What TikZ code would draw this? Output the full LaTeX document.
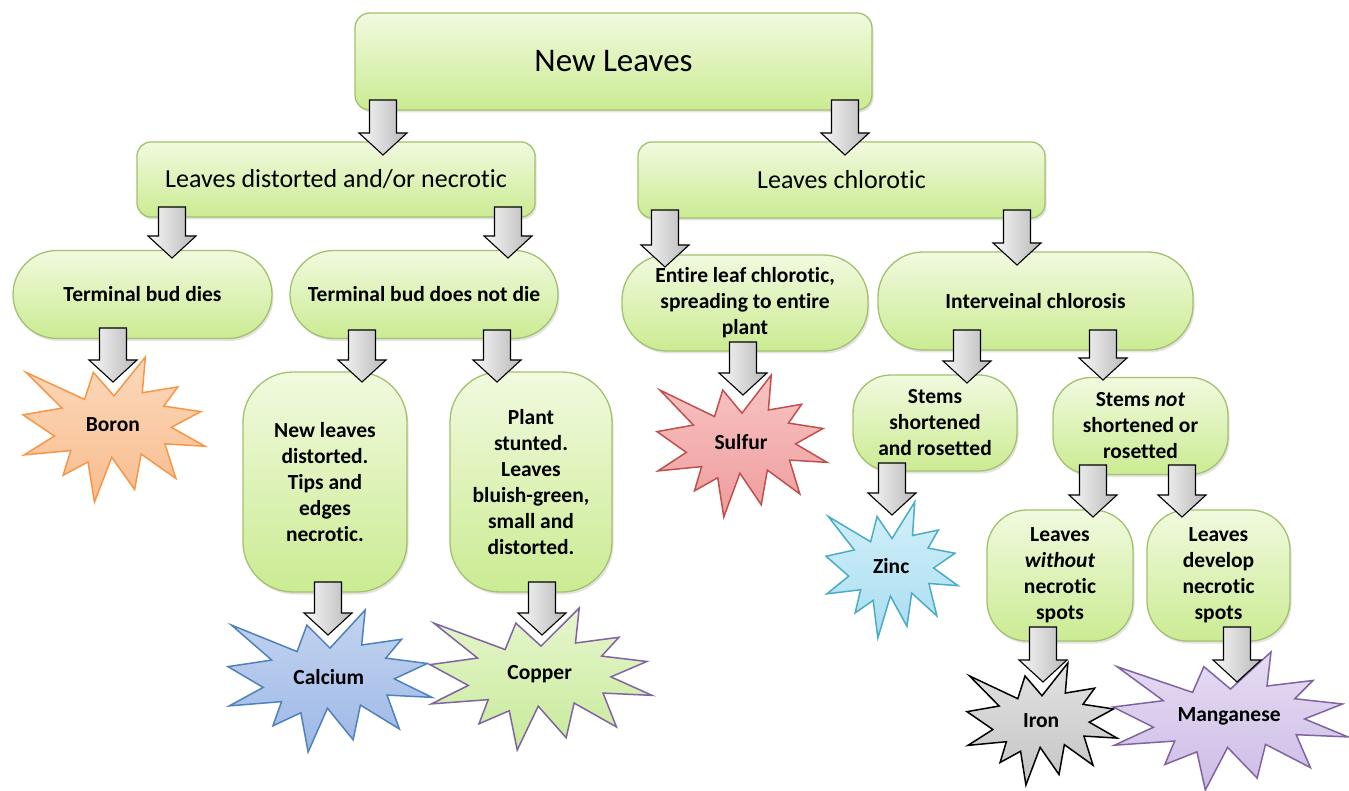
\documentclass[tikz,border=0pt]{standalone}
\usepackage{fontspec}
\setmainfont{Carlito}[Ligatures=NoCommon]
\usetikzlibrary{shadows}
\definecolor{boxborder}{HTML}{A3C16E}
\definecolor{boxtop}{HTML}{F1FADF}
\definecolor{boxbot}{HTML}{CBEB92}
\definecolor{orB}{HTML}{F79646}\definecolor{orT}{HTML}{FCD9BC}\definecolor{orF}{HTML}{F8BC8E}
\definecolor{blB}{HTML}{4F81BD}\definecolor{blT}{HTML}{C3D4F0}\definecolor{blF}{HTML}{9DB8E6}
\definecolor{puB}{HTML}{8064A2}\definecolor{gnT}{HTML}{E6F6CD}\definecolor{gnF}{HTML}{C8EA9A}
\definecolor{rdB}{HTML}{C0504D}\definecolor{rdT}{HTML}{F8C4C4}\definecolor{rdF}{HTML}{EF9C9C}
\definecolor{cyB}{HTML}{4BACC6}\definecolor{cyT}{HTML}{D3F0FA}\definecolor{cyF}{HTML}{A8DDF0}
\definecolor{grT}{HTML}{E2E2E2}\definecolor{grF}{HTML}{C4C4C4}
\definecolor{pmT}{HTML}{E6DCF3}\definecolor{pmF}{HTML}{CDBCE6}
\tikzset{
  box/.style={draw=boxborder, line width=1.3pt, top color=boxtop, bottom color=boxbot,
    align=center, inner sep=0pt, font=\bfseries\fontsize{21.5}{26}\selectfont,
    drop shadow={shadow xshift=1.5pt, shadow yshift=-2.5pt, opacity=0.22}},
  bigbox/.style={box, font=\fontsize{33}{38}\selectfont},
  midbox/.style={box, font=\fontsize{26}{30}\selectfont},
  startext/.style={font=\bfseries\fontsize{21.5}{26}\selectfont, inner sep=0pt},
  blockarr/.style={draw=black, line width=1.1pt, left color=gray!6, right color=gray!55, line join=miter},
  starboron/.style={draw=orB, line width=1.5pt, top color=orT, bottom color=orF},
  starcal/.style={draw=blB, line width=1.5pt, top color=blT, bottom color=blF},
  starcop/.style={draw=puB, line width=1.5pt, top color=gnT, bottom color=gnF},
  starsul/.style={draw=rdB, line width=1.5pt, top color=rdT, bottom color=rdF},
  starzinc/.style={draw=cyB, line width=1.5pt, top color=cyT, bottom color=cyF},
  stariron/.style={draw=black, line width=1.5pt, top color=grT, bottom color=grF},
  starmn/.style={draw=puB, line width=1.5pt, top color=pmT, bottom color=pmF},
}
\newcommand{\burst}[7]{%
  \begin{scope}[shift={(#2,#3)}, xscale=#4/100, yscale=#5/100]
    \path[#6] (50,26.85) -- (67.23,0) -- (65.53,24.65) -- (85.09,20.63) -- (77.32,33.87)
      -- (97.67,37.67) -- (81.51,48.50) -- (100,61.53) -- (77.95,59.92) -- (84.00,83.77)
      -- (64.91,66.93) -- (61.33,91.38) -- (48.76,69.14) -- (39.28,100) -- (35.72,72.35)
      -- (22.05,81.56) -- (26.24,64.52) -- (0.63,67.53) -- (17.23,54.51) -- (0,39.88)
      -- (21.42,35.26) -- (1.71,10.63) -- (33.85,29.26) -- (38.67,10.63) -- cycle;
  \end{scope}
  \node[startext] (#1) at ({#2+0.494*#4},{#3+0.469*#5}) {#7};
}
\newcommand{\barrow}[3]{%
  \path[blockarr] ({#1-13.5},{#2}) -- ({#1+13.5},{#2}) -- ({#1+13.5},{#3-22}) -- ({#1+24},{#3-22})
    -- ({#1},{#3}) -- ({#1-24},{#3-22}) -- ({#1-13.5},{#3-22}) -- cycle;
}
\begin{document}
\begin{tikzpicture}[x=1pt, y=-1pt]
\fill[white] (0,0) rectangle (1349,791);
\useasboundingbox (0,0) rectangle (1349,791);

% boxes
\node[bigbox, minimum width=517pt, minimum height=97pt, rounded corners=15pt] (nl) at (613.5,61.5) {New Leaves};
\node[midbox, minimum width=398pt, minimum height=75pt, rounded corners=14pt] (ld) at (336,179.5) {Leaves distorted and/or necrotic};
\node[midbox, minimum width=407pt, minimum height=76pt, rounded corners=14pt] (lc) at (841.5,180) {Leaves chlorotic};
\node[box, minimum width=259pt, minimum height=88pt, rounded corners=44pt] (tbd) at (142.5,294.5) {Terminal bud dies};
\node[box, minimum width=268pt, minimum height=88pt, rounded corners=44pt] (tbn) at (424,294.5) {Terminal bud does not die};
\node[box, minimum width=246pt, minimum height=96pt, rounded corners=45pt] (el) at (745,303) {Entire leaf chlorotic,\\spreading to entire\\plant};
\node[box, minimum width=315pt, minimum height=98pt, rounded corners=45pt] (ic) at (1035.5,301) {Interveinal chlorosis};
\node[box, minimum width=164pt, minimum height=220pt, rounded corners=50pt] (nld) at (325,482) {New leaves\\distorted.\\Tips and\\edges\\necrotic.};
\node[box, minimum width=162pt, minimum height=220pt, rounded corners=50pt] (ps) at (531,482) {Plant\\stunted.\\Leaves\\bluish-green,\\small and\\distorted.};
\node[box, minimum width=164pt, minimum height=96pt, rounded corners=38pt] (ss) at (935,423) {Stems\\shortened\\and rosetted};
\node[box, minimum width=175pt, minimum height=97pt, rounded corners=38pt] (sn) at (1140.5,426) {Stems \textit{not}\\shortened or\\rosetted};
\node[box, minimum width=146pt, minimum height=131pt, rounded corners=40pt] (lw) at (1060,575.5) {Leaves\\\textit{without}\\necrotic\\spots};
\node[box, minimum width=143pt, minimum height=131pt, rounded corners=40pt] (lv) at (1218.5,575.5) {Leaves\\develop\\necrotic\\spots};

% stars
\burst{boron}{23}{357}{182}{145}{starboron}{Boron}
\burst{calcium}{228}{610}{204}{142}{starcal}{Calcium}
\burst{copper}{430}{608}{222}{142}{starcop}{Copper}
\burst{sulfur}{657}{375}{170}{142}{starsul}{Sulfur}
\burst{zinc}{826}{502}{132}{136}{starzinc}{Zinc}
\burst{iron}{967}{663}{150}{122}{stariron}{Iron}
\burst{mn}{1113}{652}{235}{138}{starmn}{Manganese}

% block arrows
\barrow{383}{100}{155}
\barrow{845}{100}{155}
\barrow{172}{207}{258}
\barrow{508}{207}{258}
\barrow{665}{210}{267}
\barrow{1017}{210}{265}
\barrow{113}{328}{382}
\barrow{362}{330}{382}
\barrow{497}{330}{382}
\barrow{743}{342}{395}
\barrow{967}{330}{383}
\barrow{1103}{330}{380}
\barrow{892}{463}{515}
\barrow{1093}{465}{517}
\barrow{1182}{465}{517}
\barrow{1043}{627}{682}
\barrow{1237}{627}{682}
\barrow{328}{582}{635}
\barrow{542}{582}{635}
\end{tikzpicture}
\end{document}
